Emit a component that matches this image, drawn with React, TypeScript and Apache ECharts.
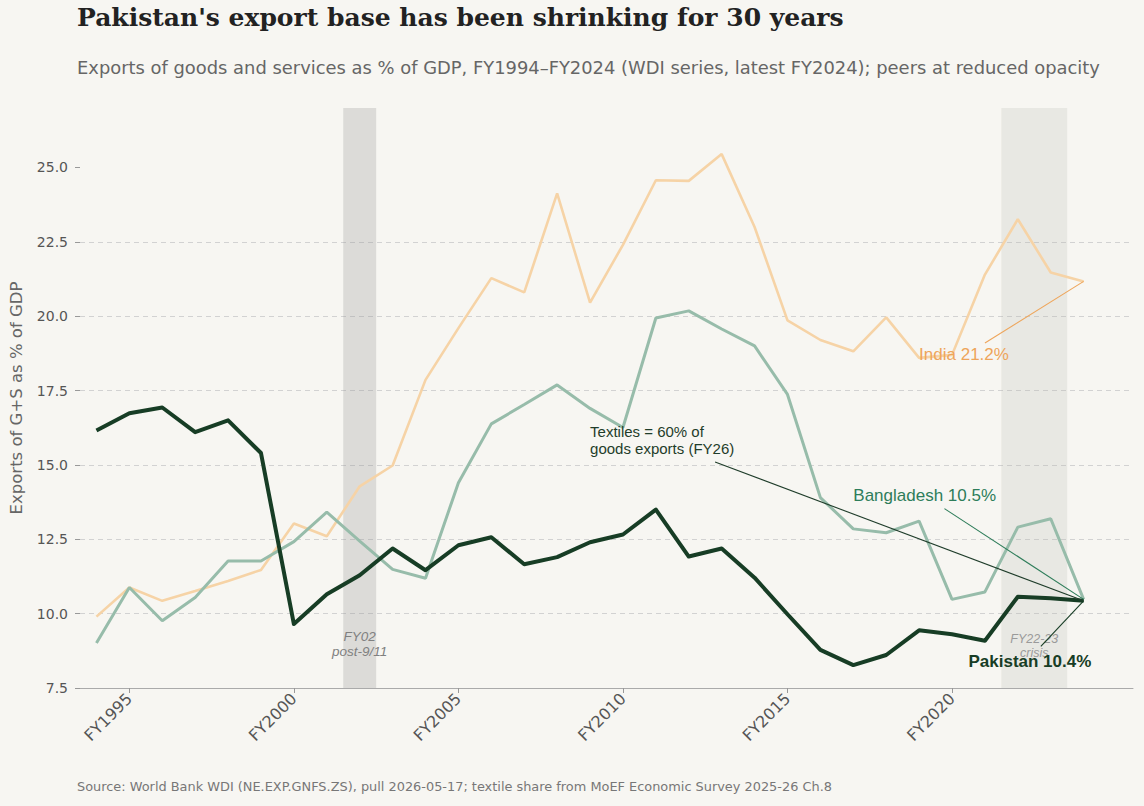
import { useEffect, useRef } from "react";
import * as echarts from "echarts";

// Fiscal years covered by the WDI series
const years = [
  1994, 1995, 1996, 1997, 1998, 1999, 2000, 2001, 2002, 2003, 2004, 2005, 2006, 2007, 2008, 2009,
  2010, 2011, 2012, 2013, 2014, 2015, 2016, 2017, 2018, 2019, 2020, 2021, 2022, 2023, 2024,
];

// Exports of goods and services, % of GDP
const pakistan = [
  16.16, 16.74, 16.93, 16.1, 16.5, 15.4, 9.65, 10.65, 11.29, 12.19, 11.46, 12.3, 12.57, 11.66, 11.9,
  12.4, 12.66, 13.5, 11.92, 12.19, 11.21, 9.98, 8.78, 8.27, 8.61, 9.44, 9.31, 9.09, 10.57, 10.52, 10.43,
];
const india = [
  9.9, 10.88, 10.43, 10.76, 11.1, 11.47, 13.03, 12.6, 14.28, 14.98, 17.86, 19.6, 21.28, 20.8, 24.13,
  20.46, 22.4, 24.57, 24.55, 25.45, 23.0, 19.86, 19.2, 18.82, 19.96, 18.6, 18.7, 21.4, 23.26, 21.47, 21.17,
];
const bangladesh = [
  9.01, 10.88, 9.76, 10.54, 11.77, 11.77, 12.42, 13.41, 12.44, 11.49, 11.19, 14.4, 16.38, 17.03, 17.69,
  16.9, 16.26, 19.94, 20.18, 19.57, 19.0, 17.37, 13.9, 12.85, 12.72, 13.11, 10.48, 10.73, 12.91, 13.19, 10.48,
];

const yTicks = [7.5, 10, 12.5, 15, 17.5, 20, 22.5, 25];
const xTicks = [1995, 2000, 2005, 2010, 2015, 2020];

// Shocks highlighted behind the lines
const shocks = [
  { from: 2001.5, to: 2002.5, lines: ["FY02", "post-9/11"] },
  { from: 2021.5, to: 2023.5, lines: ["FY22-23", "crisis"] },
];

const BG = "#f7f6f2";
const PAK = "#173d25";
const BGD_LINE = "#97bcaa";
const BGD_TEXT = "#2e7d5a";
const IND_LINE = "#f6d3a6";
const IND_TEXT = "#eea55a";
const SANS = "DejaVu Sans";

const series = (arr: number[]) => years.map((y, i) => [y, arr[i]]);
const last = (arr: number[]) => arr[arr.length - 1];

export default function App() {
  const ref = useRef<HTMLDivElement>(null);

  useEffect(() => {
    document.body.style.margin = "0";
    const chart = echarts.init(ref.current!, null, { renderer: "svg" });

    chart.setOption({
      animation: false,
      backgroundColor: BG,
      textStyle: { fontFamily: SANS },
      title: [
        {
          text: "Pakistan's export base has been shrinking for 30 years",
          left: 77,
          top: 5,
          padding: 0,
          textStyle: { fontFamily: "DejaVu Serif", fontWeight: "bold", fontSize: 25, color: "#222" },
        },
        {
          text: "Exports of goods and services as % of GDP, FY1994–FY2024 (WDI series, latest FY2024); peers at reduced opacity",
          left: 77,
          top: 58,
          padding: 0,
          textStyle: { fontFamily: SANS, fontWeight: "normal", fontSize: 17.9, color: "#666" },
        },
        {
          text: "Source: World Bank WDI (NE.EXP.GNFS.ZS), pull 2026-05-17; textile share from MoEF Economic Survey 2025-26 Ch.8",
          left: 77,
          top: 780,
          padding: 0,
          textStyle: { fontFamily: SANS, fontWeight: "normal", fontSize: 12.9, color: "#777" },
        },
      ],
      grid: { left: 77, right: 11, top: 108, bottom: 118 },
      xAxis: {
        type: "value",
        min: 1993.5,
        max: 2025.5,
        splitLine: { show: false },
        axisLine: { show: true, lineStyle: { color: "#aaa", width: 1 } },
        axisTick: { show: true, length: 5, lineStyle: { color: "#999" }, customValues: xTicks },
        axisLabel: {
          customValues: xTicks,
          rotate: 45,
          margin: 8,
          fontSize: 16,
          color: "#555",
          formatter: (v: number) => "FY" + v,
        },
      },
      yAxis: {
        type: "value",
        min: 7.5,
        max: 27,
        interval: 2.5,
        name: "Exports of G+S as % of GDP",
        nameLocation: "middle",
        nameRotate: 90,
        nameGap: 55,
        nameTextStyle: { fontSize: 16.5, color: "#666" },
        axisLine: { show: false },
        axisTick: { show: true, length: 5, lineStyle: { color: "#999" }, customValues: yTicks },
        axisLabel: {
          customValues: yTicks,
          fontSize: 14,
          color: "#555",
          margin: 12,
          formatter: (v: number) => v.toFixed(1),
        },
        splitLine: {
          show: true,
          showMaxLine: false,
          lineStyle: { color: "#d2d2d2", type: [5, 4], width: 1 },
        },
      },
      series: [
        {
          type: "line",
          data: [],
          z: 1,
          silent: true,
          markArea: {
            silent: true,
            data: shocks.map((s, i) => [
              { xAxis: s.from, itemStyle: { color: i === 0 ? "rgba(150,150,150,0.28)" : "rgba(180,180,175,0.22)" } },
              { xAxis: s.to },
            ]),
          },
        },
        {
          name: "India",
          type: "line",
          z: 2,
          data: series(india),
          showSymbol: false,
          lineStyle: { color: IND_LINE, width: 2.6 },
          itemStyle: { color: IND_LINE },
        },
        {
          name: "Bangladesh",
          type: "line",
          z: 3,
          data: series(bangladesh),
          showSymbol: false,
          lineStyle: { color: BGD_LINE, width: 3 },
          itemStyle: { color: BGD_LINE },
        },
        {
          name: "Pakistan",
          type: "line",
          z: 4,
          data: series(pakistan),
          showSymbol: false,
          lineStyle: { color: PAK, width: 4, join: "round" },
          itemStyle: { color: PAK },
        },
      ],
    });

    const px = (p: number[]) => chart.convertToPixel({ gridIndex: 0 }, p) as number[];
    const endYear = last(years);
    const CALLOUT_FONT = '"Liberation Sans", Arial, sans-serif';

    // Callouts: label anchor, leader start and the end point they point to
    const callouts = [
      {
        text: `India ${last(india).toFixed(1)}%`,
        at: [2019.0, 18.7],
        from: [2021.0, 19.1],
        to: [endYear, last(india)],
        color: IND_TEXT,
        size: 17,
        weight: "normal",
      },
      {
        text: `Bangladesh ${last(bangladesh).toFixed(1)}%`,
        at: [2017.0, 13.96],
        from: [2019.77, 13.53],
        to: [endYear, last(bangladesh)],
        color: BGD_TEXT,
        size: 17,
        weight: "normal",
      },
      {
        text: `Pakistan ${last(pakistan).toFixed(1)}%`,
        at: [2020.5, 8.4],
        from: [2022.7, 8.9],
        to: [endYear, last(pakistan)],
        color: PAK,
        size: 17,
        weight: "bold",
      },
      {
        text: "Textiles = 60% of\ngoods exports (FY26)",
        at: [2009.0, 15.85],
        from: [2012.8, 15.1],
        to: [endYear, last(pakistan)],
        color: "#1f3d2a",
        size: 15,
        weight: "normal",
      },
    ];

    const graphics: any[] = [];

    // Shock labels near the bottom of each band (drawn beneath the callouts)
    const shockLabelTop = [9.5, 9.38];
    shocks.forEach((s, i) => {
      const c = px([(s.from + s.to) / 2, shockLabelTop[i]]);
      const size = i === 0 ? 13.5 : 12.5;
      graphics.push({
        type: "text",
        z: 45,
        x: c[0],
        y: c[1],
        style: {
          text: s.lines.join("\n"),
          fill: i === 0 ? "#808080" : "#9a9a9a",
          font: `italic ${size}px ${CALLOUT_FONT}`,
          textAlign: "center",
          textVerticalAlign: "top",
          lineHeight: size + 1.5,
        },
      });
    });

    callouts.forEach((c) => {
      const a = px(c.at);
      const f = px(c.from);
      const t = px(c.to);
      graphics.push({
        type: "line",
        z: 50,
        shape: { x1: f[0], y1: f[1], x2: t[0], y2: t[1] },
        style: { stroke: c.color, lineWidth: 1.1 },
      });
      graphics.push({
        type: "text",
        z: 51,
        x: a[0],
        y: a[1],
        style: {
          text: c.text,
          fill: c.color,
          font: `${c.weight} ${c.size}px ${CALLOUT_FONT}`,
          textAlign: "left",
          textVerticalAlign: "middle",
          lineHeight: c.size + 2,
        },
      });
    });

    chart.setOption({ graphic: graphics });

    return () => chart.dispose();
  }, []);

  return <div ref={ref} style={{ width: 1144, height: 806, position: "fixed", left: 0, top: 0 }} />;
}
